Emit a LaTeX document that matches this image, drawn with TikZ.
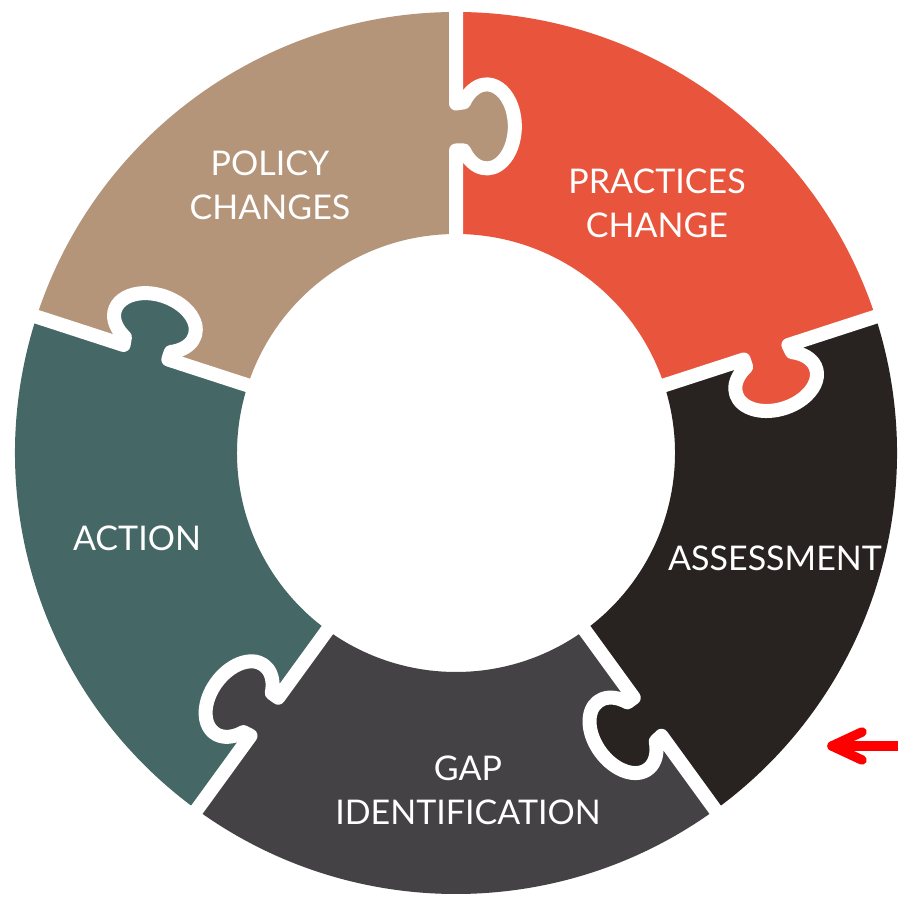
\documentclass[tikz,border=0pt]{standalone}
\usepackage{fontspec}
\setmainfont{Lato}
\definecolor{tanc}{HTML}{B5957A}
\definecolor{orangec}{HTML}{E8553C}
\definecolor{tealc}{HTML}{456866}
\definecolor{grayc}{HTML}{454246}
\definecolor{blackc}{HTML}{282220}
\tikzset{
  seamline/.style={draw=white, line width=14pt, line join=round},
  lbl/.style={text=white, font=\fontsize{34}{44}\selectfont, align=center, inner sep=0pt},
  redarrow/.style={draw=red, line width=9.5pt, line cap=round, line join=round}
}
\newcommand\piece[3]{%
  \fill[#3, shift={(456,444)}] (#1:219pt) -- (#1:441pt) arc[start angle=#1, end angle=#2, radius=441pt] -- (#2:219pt) arc[start angle=#2, end angle=#1, radius=219pt] -- cycle;}
\newcommand\knobseam[2]{%
  \begin{scope}[shift={(456,444)}, rotate=#1]
    \fill[#2] (302.5,2) -- (302.5,-7.9) arc[start angle=125, end angle=415, x radius=42pt, y radius=28pt] -- (349.5,2) -- cycle;
    \draw[seamline] (205,0) -- (302.5,0) -- (302.5,-7.9) arc[start angle=125, end angle=415, x radius=42pt, y radius=28pt] -- (349.5,0) -- (455,0);
  \end{scope}}
\begin{document}
\begin{tikzpicture}[x=1pt, y=1pt]
\useasboundingbox (0,0) rectangle (897,897);
\fill[white] (0,0) rectangle (897,897);
\piece{18}{90}{orangec}
\piece{90}{162}{tanc}
\piece{162}{234}{tealc}
\piece{234}{306}{grayc}
\piece{306}{378}{blackc}
\knobseam{90}{tanc}
\knobseam{18}{orangec}
\knobseam{-54}{blackc}
\knobseam{-126}{grayc}
\knobseam{162}{tealc}
\node[lbl] (policy) at (270,712) {POLICY\\CHANGES};
\node[lbl] (practices) at (657,694) {PRACTICES\\CHANGE};
\node[lbl] (assessment) at (775,339) {ASSESSMENT};
\node[lbl] (action) at (137,359) {ACTION};
\node[lbl] (gap) at (468,107) {GAP\\IDENTIFICATION};
\coordinate (arrowtail) at (900,151);
\coordinate (arrowtip) at (832,151);
\draw[redarrow] (arrowtail) -- (arrowtip);
\draw[redarrow] ([shift={(30,14)}]arrowtip) -- (arrowtip) -- ([shift={(30,-14)}]arrowtip);
\end{tikzpicture}
\end{document}
